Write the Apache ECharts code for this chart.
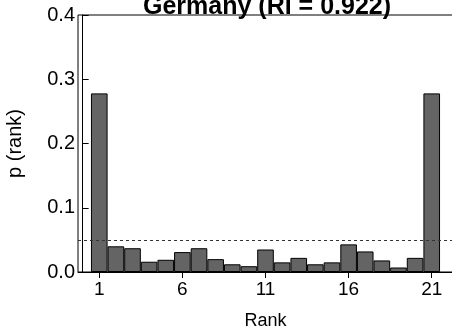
<!DOCTYPE html>
<html>
<head>
<meta charset="utf-8">
<script src="https://cdn.jsdelivr.net/npm/echarts@6/dist/echarts.min.js"></script>
<style>
  html, body { margin: 0; padding: 0; background: #fff; }
  #chart { width: 452px; height: 334px; }
</style>
</head>
<body>
<div id="chart"></div>
<script>
// Rank histogram for Germany: probability of each of the 21 ranks
const ranks = [1, 2, 3, 4, 5, 6, 7, 8, 9, 10, 11, 12, 13, 14, 15, 16, 17, 18, 19, 20, 21];
const probs = [0.278, 0.040, 0.037, 0.016, 0.019, 0.031, 0.037, 0.020, 0.012, 0.009,
               0.035, 0.015, 0.022, 0.012, 0.015, 0.043, 0.032, 0.018, 0.007, 0.022, 0.278];
const xTicks = [1, 6, 11, 16, 21];
const yTicks = [0.0, 0.1, 0.2, 0.3, 0.4];
const uniformLevel = 1 / 21;
const titleText = 'Germany (RI = 0.922)';

const FONT = "'Liberation Sans', Arial, Helvetica, sans-serif";
const xMin = -0.28, xMax = 22.28;
const gridLeft = 78, gridTop = 15, gridWidth = 375, gridHeight = 257;
const barPx = gridWidth / (xMax - xMin);

const chart = echarts.init(document.getElementById('chart'), null, { renderer: 'canvas' });
chart.setOption({
  animation: false,
  backgroundColor: '#ffffff',
  title: {
    text: titleText,
    left: 262, top: -10, textAlign: 'center',
    textStyle: { fontFamily: FONT, fontSize: 25, fontWeight: 'bold', color: '#000' }
  },
  grid: {
    left: gridLeft, top: gridTop, width: gridWidth, height: gridHeight,
    outerBoundsMode: 'none', containLabel: false,
    show: true, borderColor: '#000', borderWidth: 1, backgroundColor: 'transparent'
  },
  xAxis: {
    type: 'value', min: xMin, max: xMax,
    name: 'Rank', nameLocation: 'middle', nameGap: 40,
    nameTextStyle: { fontFamily: FONT, fontSize: 18, color: '#000' },
    axisLine: { show: true, lineStyle: { color: '#000', width: 1 } },
    axisTick: { show: true, customValues: xTicks, length: 6, lineStyle: { color: '#000' } },
    axisLabel: { customValues: xTicks, fontFamily: FONT, fontSize: 19, color: '#000', margin: 8 },
    splitLine: { show: false }
  },
  yAxis: {
    type: 'value', min: 0, max: 0.4, interval: 0.1,
    name: 'p (rank)', nameLocation: 'middle', nameGap: 53, nameRotate: 90,
    nameTextStyle: { fontFamily: FONT, fontSize: 20, color: '#000' },
    axisLine: { show: true, lineStyle: { color: '#000', width: 1 } },
    axisTick: { show: true, inside: true, length: 6, customValues: yTicks, lineStyle: { color: '#000' } },
    axisLabel: {
      customValues: yTicks,
      fontFamily: FONT, fontSize: 20, color: '#000', margin: 3,
      formatter: v => v.toFixed(1)
    },
    splitLine: { show: false }
  },
  series: [{
    type: 'bar',
    data: ranks.map((r, i) => [r, probs[i]]),
    barWidth: barPx,
    itemStyle: { color: '#646464', borderColor: '#000', borderWidth: 1 },
    markLine: {
      silent: true, symbol: 'none', label: { show: false },
      lineStyle: { type: [3, 3], color: '#333', width: 1 },
      data: [{ yAxis: uniformLevel }]
    }
  }]
});
</script>
</body>
</html>
